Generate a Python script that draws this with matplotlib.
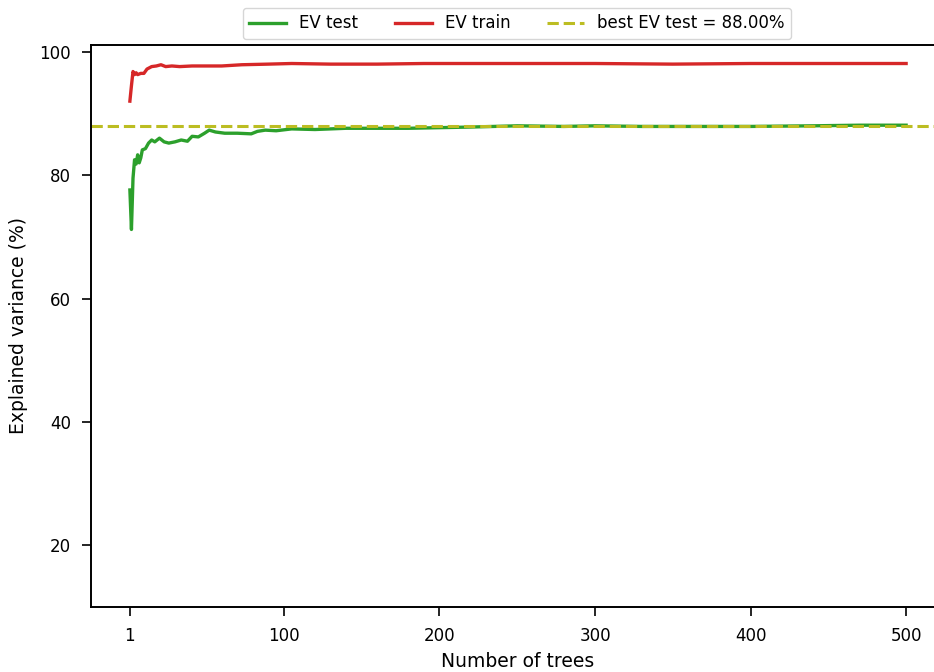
import matplotlib

matplotlib.use("Agg")
import matplotlib.pyplot as plt

trees_test = [1, 2, 3, 4, 5, 6, 7, 8, 9, 11, 13, 15, 17, 20, 23, 26, 30, 34, 38, 41,
              45, 49, 52, 56, 62, 70, 79, 83, 88, 95, 105, 120, 140, 160, 180, 200,
              220, 250, 280, 300, 330, 360, 400, 440, 470, 500]
ev_test = [77.6, 71.2, 79.5, 82.5, 81.8, 83.3, 82.0, 82.8, 84.1, 84.3, 85.2, 85.7, 85.4,
           86.0, 85.4, 85.2, 85.4, 85.7, 85.5, 86.3, 86.2, 86.8, 87.3, 87.0, 86.8,
           86.8, 86.7, 87.1, 87.3, 87.2, 87.5, 87.4, 87.6, 87.6, 87.6, 87.7,
           87.8, 88.0, 87.9, 88.0, 87.9, 87.9, 87.9, 88.0, 88.1, 88.1]

trees_train = [1, 2, 3, 4, 5, 6, 8, 10, 12, 15, 18, 21, 24, 28, 33, 41, 50, 60, 73, 90,
               105, 130, 160, 190, 220, 260, 300, 350, 400, 450, 500]
ev_train = [92.0, 94.5, 96.8, 96.3, 96.6, 96.3, 96.5, 96.5, 97.2, 97.6, 97.7, 97.9, 97.6,
            97.7, 97.6, 97.7, 97.7, 97.7, 97.9, 98.0, 98.1, 98.0, 98.0, 98.1, 98.1,
            98.1, 98.1, 98.0, 98.1, 98.1, 98.1]

best_ev_test = 88.0
xticks = [1, 100, 200, 300, 400, 500]

fig = plt.figure(figsize=(9.34, 6.72), dpi=100)
# axes deliberately runs past the right edge, as in the original crop
ax = fig.add_axes([91 / 934, 1 - 607 / 672, (945 - 91) / 934, (607 - 45) / 672])

ax.plot(trees_test, ev_test, color="tab:green", lw=2.4, label="EV test")
ax.plot(trees_train, ev_train, color="tab:red", lw=2.4, label="EV train")
ax.axhline(best_ev_test, color="tab:olive", lw=2.2, ls="--",
           label=f"best EV test = {best_ev_test:.2f}%")

ax.set_xlim(-24, 525)
ax.set_ylim(10, 101.1)
ax.set_xticks(xticks)
ax.set_yticks([20, 40, 60, 80, 100])
ax.tick_params(direction="out", length=6.5, width=1.2, labelsize=12, pad=8)
for s in ax.spines.values():
    s.set_linewidth(1.4)

ax.set_xlabel("Number of trees", fontsize=13.5, labelpad=5)
ax.set_ylabel("Explained variance (%)", fontsize=13.5, labelpad=8)

ax.legend(loc="lower center", bbox_to_anchor=((517 - 91) / (945 - 91), 1.0), ncol=3,
          fontsize=12, frameon=True, borderaxespad=0.35, columnspacing=2.2,
          handlelength=2.2)

fig.savefig("out.png", dpi=100)
